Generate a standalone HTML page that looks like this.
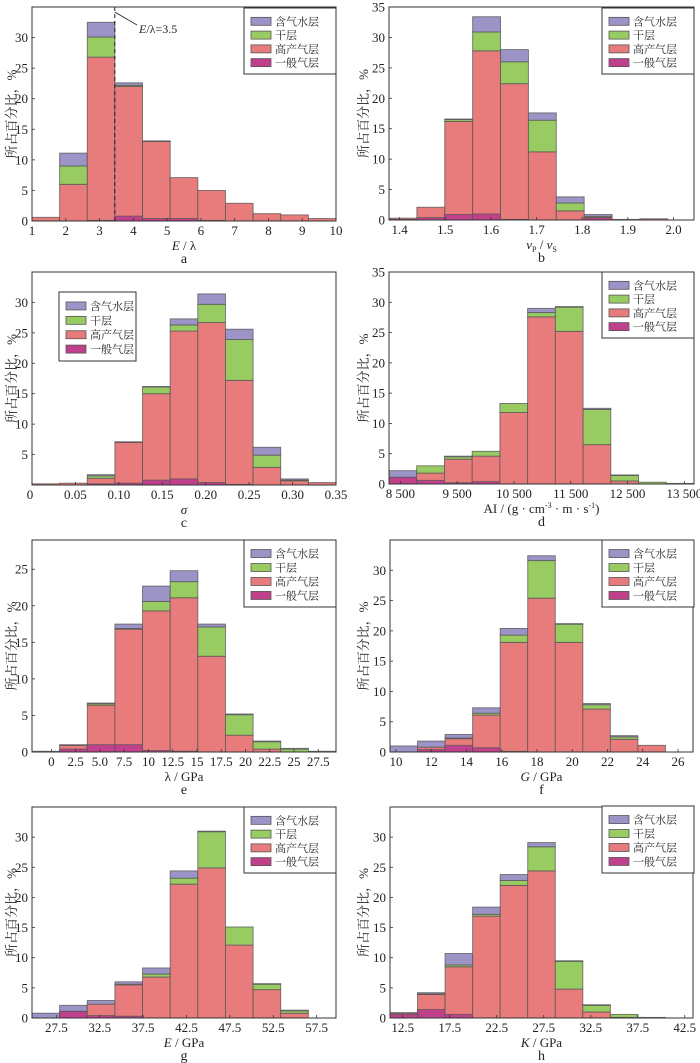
<!DOCTYPE html>
<html><head><meta charset="utf-8">
<style>
html,body{margin:0;padding:0;background:#fff;}
svg{display:block;}
text{font-family:"Liberation Serif","Noto Serif CJK SC",serif;fill:#222;}
.cjk{font-family:"Liberation Serif","Noto Serif CJK SC","Noto Sans CJK SC",serif;}
</style></head>
<body>
<svg id="chart" width="700" height="1063" viewBox="0 0 700 1063" xmlns="http://www.w3.org/2000/svg"></svg>
<script>
// ---- data: cumulative tops for each bin (一般气层, 高产气层, 干层, 含气水层) ----
const aGen=[0,0,0.1,0.8,0.4,0.4,0.1,0,0,0,0];
const aProd=[0.6,6,26.8,22,13,7.1,5,2.9,1.2,1.0,0.4];
const aDry=[0.6,9,30.1,22.2,13.05,7.1,5,2.9,1.2,1.0,0.4];
const aWater=[0.6,11.1,32.5,22.6,13.1,7.1,5,2.9,1.2,1.0,0.4];
const aTicks=[1,2,3,4,5,6,7,8,9,10];
const aTickLabels=["1","2","3","4","5","6","7","8","9","10"];

const bGen=[0.1,0.4,0.9,1.0,0.1,0,0,0.4,0,0,0];
const bProd=[0.3,2.1,16.2,27.8,22.4,11.2,1.5,0.4,0.1,0.2,0];
const bDry=[0.3,2.1,16.5,30.9,26,16.4,2.8,0.6,0.1,0.2,0];
const bWater=[0.3,2.1,16.6,33.4,28,17.6,3.8,0.9,0.1,0.2,0];
const bTicks=[1.4,1.5,1.6,1.7,1.8,1.9,2.0];
const bTickLabels=["1.4","1.5","1.6","1.7","1.8","1.9","2.0"];

const cGen=[0,0,0.2,0.3,0.8,1.0,0.4,0.1,0,0,0];
const cProd=[0.2,0.3,1.1,7.0,15.0,25.3,26.7,17.2,2.9,0.7,0.4];
const cDry=[0.2,0.3,1.5,7.05,16.1,26.3,29.7,23.9,4.9,0.8,0.4];
const cWater=[0.2,0.3,1.7,7.1,16.2,27.3,31.4,25.6,6.2,1.0,0.4];
const cTicks=[0,0.05,0.10,0.15,0.20,0.25,0.30,0.35];
const cTickLabels=["0","0.05","0.10","0.15","0.20","0.25","0.30","0.35"];

const dGen=[1.1,0.6,0.2,0.4,0,0,0,0,0,0,0];
const dProd=[1.1,1.8,4.1,4.6,11.8,27.6,25.2,6.5,0.5,0,0];
const dDry=[1.1,3.0,4.5,5.4,13.3,28.3,29.2,12.3,1.4,0.3,0];
const dWater=[2.2,3.0,4.6,5.4,13.3,29.0,29.3,12.5,1.5,0.3,0.1];
const dTicks=[8500,9500,10500,11500,12500,13500];
const dTickLabels=["8 500","9 500","10 500","11 500","12 500","13 500"];

const eGen=[0,0.4,1.0,1.0,0.2,0.1,0,0,0,0,0];
const eProd=[0.1,0.9,6.4,16.8,19.3,21.1,13.1,2.3,0.4,0,0];
const eDry=[0.1,0.9,6.6,16.9,20.6,23.3,17.1,5.1,1.4,0.4,0.1];
const eWater=[0.1,1.0,6.7,17.5,22.7,24.8,17.5,5.2,1.5,0.5,0.1];
const eTicks=[0,2.5,5,7.5,10,12.5,15,17.5,20,22.5,25,27.5];
const eTickLabels=["0","2.5","5.0","7.5","10","12.5","15","17.5","20","22.5","25","27.5"];

const fGen=[0,0.4,1.1,0.7,0.1,0,0,0,0,0,0];
const fProd=[0,0.8,2.2,6.1,18.1,25.4,18.1,7.1,2.1,1.1,0];
const fDry=[0,0.8,2.3,6.4,19.3,31.6,21.1,7.8,2.5,1.1,0];
const fWater=[1.0,1.8,2.9,7.3,20.4,32.4,21.2,8.0,2.7,1.1,0];
const fTicks=[10,12,14,16,18,20,22,24,26];
const fTickLabels=["10","12","14","16","18","20","22","24","26"];

const gGen=[0,1.1,0.4,0.3,0,0,0,0,0,0,0];
const gProd=[0,1.1,2.3,5.5,6.8,22.2,24.9,12.1,4.7,0.8,0];
const gDry=[0,1.1,2.3,5.6,7.3,23.2,30.9,15.1,5.6,1.2,0];
const gWater=[0.8,2.1,2.9,6.0,8.3,24.4,31.0,15.1,5.7,1.3,0];
const gTicks=[27.5,32.5,37.5,42.5,47.5,52.5,57.5];
const gTickLabels=["27.5","32.5","37.5","42.5","47.5","52.5","57.5"];

const hGen=[0.6,1.4,0.6,0,0,0,0,0,0,0,0];
const hProd=[0.8,3.9,8.5,16.9,22.0,24.4,4.8,1.0,0.1,0,0];
const hDry=[0.8,4.0,8.8,17.2,22.8,28.4,9.4,2.1,0.6,0.1,0];
const hWater=[0.9,4.2,10.7,18.4,23.8,29.1,9.5,2.2,0.6,0.1,0];
const hTicks=[12.5,17.5,22.5,27.5,32.5,37.5,42.5];
const hTickLabels=["12.5","17.5","22.5","27.5","32.5","37.5","42.5"];

const legendNames=["含气水层","干层","高产气层","一般气层"];
const yTicks=[0,5,10,15,20,25,30,35];

const NS="http://www.w3.org/2000/svg";
const svg=document.getElementById('chart');
const COL={water:"#9c93c6",dry:"#98cb62",prod:"#e87b7b",gen:"#c1408b"};
function mk(tag,attrs,parent){const e=document.createElementNS(NS,tag);for(const k in attrs)e.setAttribute(k,attrs[k]);(parent||svg).appendChild(e);return e;}

const panels=[
 {id:"a",box:[32,7,336,221],x0:1,x1:10,ymax:35,yt:[0,5,10,15,20,25,30],start:1,width:9/11,gen:aGen,prod:aProd,dry:aDry,water:aWater,ticks:aTicks,labels:aTickLabels,xlab:'<tspan font-style="italic">E</tspan> / λ',leg:[244,8,92,66],ylx:12},
 {id:"b",box:[389,7,694,220],x0:1.3766,x1:2.045,ymax:35,yt:yTicks,start:1.3766,width:0.0611,gen:bGen,prod:bProd,dry:bDry,water:bWater,ticks:bTicks,labels:bTickLabels,xlab:'<tspan font-style="italic">v</tspan><tspan font-size="8" dy="3">P</tspan><tspan dy="-3"> / </tspan><tspan font-style="italic">v</tspan><tspan font-size="8" dy="3">S</tspan>',leg:[602,8,92,66],ylx:364},
 {id:"c",box:[32,272,336,485],x0:0,x1:0.35,ymax:35,yt:[5,10,15,20,25,30],start:0,width:0.35/11,gen:cGen,prod:cProd,dry:cDry,water:cWater,ticks:cTicks,labels:cTickLabels,xlab:'<tspan font-style="italic">σ</tspan>',leg:[59,292,77,69],ylx:12,zero:true},
 {id:"d",box:[389,272,694,484],x0:8300,x1:13670,ymax:35,yt:yTicks,start:8300,width:5370/11,gen:dGen,prod:dProd,dry:dDry,water:dWater,ticks:dTicks,labels:dTickLabels,xlab:'AI / (g · cm<tspan font-size="8" dy="-5">-3</tspan><tspan dy="5"> · m · s</tspan><tspan font-size="8" dy="-5">-1</tspan><tspan dy="5">)</tspan>',leg:[602,272,92,66],ylx:364},
 {id:"e",box:[32,540,336,752],x0:-2,x1:29.33,ymax:29,yt:[0,5,10,15,20,25],start:-2,width:31.33/11,gen:eGen,prod:eProd,dry:eDry,water:eWater,ticks:eTicks,labels:eTickLabels,xlab:'λ / GPa',leg:[244,540,92,67],ylx:12},
 {id:"f",box:[390,540,693,752],x0:9.66,x1:26.85,ymax:35,yt:[0,5,10,15,20,25,30],start:9.66,width:17.19/11,gen:fGen,prod:fProd,dry:fDry,water:fWater,ticks:fTicks,labels:fTickLabels,xlab:'<tspan font-style="italic">G</tspan> / GPa',leg:[602,540,92,67],ylx:364},
 {id:"g",box:[32,807,336,1018],x0:24.69,x1:59.73,ymax:35,yt:[0,5,10,15,20,25,30],start:24.69,width:35.04/11,gen:gGen,prod:gProd,dry:gDry,water:gWater,ticks:gTicks,labels:gTickLabels,xlab:'<tspan font-style="italic">E</tspan> / GPa',leg:[244,807,92,66],ylx:12},
 {id:"h",box:[390,807,693,1018],x0:11.15,x1:43.38,ymax:35,yt:[0,5,10,15,20,25,30],start:11.15,width:32.23/11,gen:hGen,prod:hProd,dry:hDry,water:hWater,ticks:hTicks,labels:hTickLabels,xlab:'<tspan font-style="italic">K</tspan> / GPa',leg:[602,806,92,67],ylx:364}
];

panels.forEach(p=>{
  const [L,T,R,B]=p.box;
  const g=mk('g',{});
  
  
  const sx=v=>L+(v-p.x0)/(p.x1-p.x0)*(R-L);
  const sy=v=>B-v/p.ymax*(B-T);
  const n=p.prod.length;
  for(let i=0;i<n;i++){
    const xa=sx(p.start+i*p.width), xb=sx(p.start+(i+1)*p.width);
    const segs=[["prod",0,p.prod[i]],["dry",p.prod[i],p.dry[i]],["water",p.dry[i],p.water[i]],["gen",0,p.gen[i]]];
    segs.forEach(s=>{
      if(s[2]-s[1]<=0.001) return;
      const r=mk('rect',{x:xa,y:sy(s[2]),width:xb-xa,height:sy(s[1])-sy(s[2]),fill:COL[s[0]],stroke:"#555","stroke-width":0.9,"stroke-opacity":0.8},g);
      
      
    });
  }
  const fr=mk('rect',{x:L,y:T,width:R-L,height:B-T,fill:"none",stroke:"#333","stroke-width":1},g);
  
  
  p.yt.forEach(v=>{
    if(v>p.ymax) return;
    mk('line',{x1:L,x2:L+3,y1:sy(v),y2:sy(v),stroke:"#333","stroke-width":0.8},g);
    const t=mk('text',{x:L-4,y:sy(v)+4.5,"text-anchor":"end","font-size":13},g);
    t.textContent=v;
    
    
  });
  if(p.zero){const t=mk('text',{x:L-2,y:B+14,"text-anchor":"middle","font-size":13},g);t.textContent="0";}
  p.ticks.forEach((v,i)=>{
    if(p.zero && v===0) return;
    mk('line',{x1:sx(v),x2:sx(v),y1:B,y2:B-3,stroke:"#333","stroke-width":0.8},g);
    const t=mk('text',{x:sx(v),y:B+14,"text-anchor":"middle","font-size":13},g);
    t.textContent=p.labels[i];
    
    
  });
  const cx=(L+R)/2;
  const xl=mk('text',{x:cx,y:B+29,"text-anchor":"middle","font-size":13},g);
  xl.innerHTML=p.xlab;
  
  
  const pl=mk('text',{x:cx,y:B+42,"text-anchor":"middle","font-size":14},g);
  pl.textContent=p.id;
  
  
  const cy=(T+B)/2;
  const yl=mk('text',{x:p.ylx,y:cy,"text-anchor":"middle","font-size":13,"class":"cjk",fill:"#333",transform:`rotate(-90 ${p.ylx} ${cy})`,dy:4},g);
  yl.textContent="所占百分比，%";
  
  
  const [lx,ly,lw,lh]=p.leg;
  const lg=mk('g',{},g);
  
  
  mk('rect',{x:lx,y:ly,width:lw,height:lh,fill:"#fff",stroke:"#333","stroke-width":1},lg);
  const keys=["water","dry","prod","gen"];
  const step=lh/4.7;
  keys.forEach((k,i)=>{
    const yy=ly+step*0.85+i*step*0.98+step*0.1;
    const sw=mk('rect',{x:lx+7,y:yy-4,width:20,height:8,fill:COL[k],stroke:"#555","stroke-width":0.8},lg);
    
    
    const tt=mk('text',{x:lx+31,y:yy+4,"font-size":11,"class":"cjk"},lg);
    tt.textContent=legendNames[i];
    
    
  });
  if(p.id==="a"){
    const dl=mk('line',{x1:sx(3.45),x2:sx(3.45),y1:T,y2:B,stroke:"#222","stroke-width":1,"stroke-dasharray":"4,3"},g);
    
    
    mk('line',{x1:sx(3.45),y1:12,x2:137,y2:25,stroke:"#222","stroke-width":0.8},g);
    const at=mk('text',{x:139,y:33,"font-size":12},g);
    at.innerHTML='<tspan font-style="italic">E</tspan>/λ=3.5';
    
    
  }
});
</script>
</body></html>
